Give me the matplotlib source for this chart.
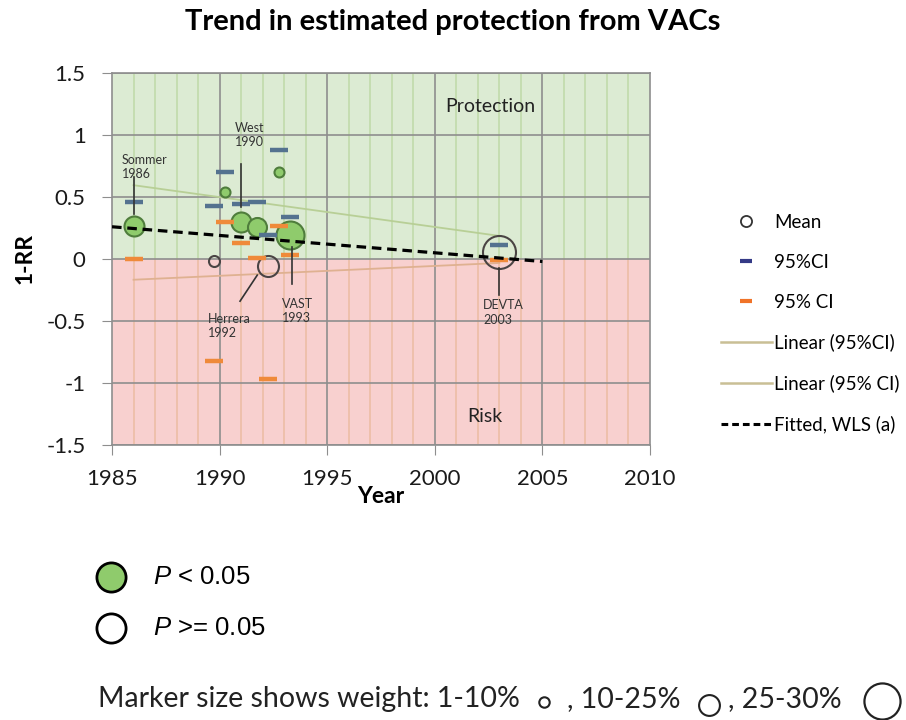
import numpy as np
import matplotlib
matplotlib.use("Agg")
import matplotlib.pyplot as plt
from matplotlib.lines import Line2D

plt.rcParams['font.family'] = ['Lato', 'DejaVu Sans']
plt.rcParams['mathtext.fontset'] = 'custom'
plt.rcParams['mathtext.it'] = 'Liberation Sans:italic'
plt.rcParams['mathtext.rm'] = 'Liberation Sans'

# ---------------- data ----------------
years = [1986.0, 1989.74, 1990.26, 1991.0, 1991.73, 1992.24, 1992.77, 1993.25, 2003.0]
mean_1rr = [0.27, -0.02, 0.54, 0.30, 0.26, -0.06, 0.70, 0.19, 0.06]
ci_upper = [0.46, 0.43, 0.70, 0.44, 0.46, 0.19, 0.88, 0.34, 0.11]
ci_lower = [0.00, -0.82, 0.30, 0.13, 0.01, -0.97, 0.27, 0.03, -0.01]
significant = [True, False, True, True, True, False, True, True, False]
weights = [14, 5, 4, 14, 13, 15, 4, 22, 27]  # percent weight (marker size)
wls_years = [1985, 2005]
wls_fit = [0.26, -0.02]
labelled_studies = ["Sommer\n1986", "West\n1990", "Herrera\n1992", "VAST\n1993", "DEVTA\n2003"]
x_ticks = [1985, 1990, 1995, 2000, 2005, 2010]
y_ticks = [1.5, 1, 0.5, 0, -0.5, -1, -1.5]
y_ticklabels = ["1.5", "1", "0.5", "0", "-0.5", "-1", "-1.5"]

# ---------------- styles ----------------
GREEN_BG = '#dcebd3'
RED_BG = '#f8d0cf'
GRID = '#8e8e8e'
MINOR_G = '#c3dcae'
MINOR_R = '#eebfa9'
FILL_G = '#8fcb6c'
EDGE_G = '#4f7d3c'
EDGE_O = '#4a4444'
BLUE = '#54728f'
ORANGE = '#ef8a3a'
TREND_G = '#b8cf96'
TREND_O = '#dfb191'

fig = plt.figure(figsize=(9.06, 7.2), dpi=100)
W, H = 906, 720
ax = fig.add_axes([112 / W, 1 - 445 / H, (650 - 112) / W, (445 - 73) / H])
ax.set_xlim(1985, 2010)
ax.set_ylim(-1.5, 1.5)

ax.axhspan(0, 1.5, color=GREEN_BG, zorder=0, lw=0)
ax.axhspan(-1.5, 0, color=RED_BG, zorder=0, lw=0)
for yr in range(1986, 2010):
    if yr % 5 == 0:
        ax.axvline(yr, color=GRID, lw=1.2, zorder=0.6)
    else:
        ax.axvline(yr, ymin=0.5, ymax=1, color=MINOR_G, lw=1.3, zorder=0.5)
        ax.axvline(yr, ymin=0, ymax=0.5, color=MINOR_R, lw=1.3, zorder=0.5)
for yv in y_ticks:
    ax.axhline(yv, color=GRID, lw=1.2, zorder=0.6)

# trend lines of CI bounds
yrs = np.array(years)
xs = np.array([yrs.min(), yrs.max()])
pu = np.polyfit(yrs, ci_upper, 1)
pl = np.polyfit(yrs, ci_lower, 1)
ax.plot(xs, np.polyval(pu, xs), color=TREND_G, lw=1.3, zorder=2)
ax.plot(xs, np.polyval(pl, xs), color=TREND_O, lw=1.3, zorder=2)

# mean circles
for x, m, s, w in zip(years, mean_1rr, significant, weights):
    ms = 0.72 * (6 + w)
    if s:
        ax.plot(x, m, 'o', ms=ms, mfc=FILL_G, mec=EDGE_G, mew=1.5, zorder=3)
    else:
        ax.plot(x, m, 'o', ms=ms, mfc='none', mec=EDGE_O, mew=1.5, zorder=3)

# CI dashes
ax.plot(years, ci_upper, linestyle='none', marker='_', ms=13, mew=3.2, color=BLUE, zorder=4)
ax.plot(years, ci_lower, linestyle='none', marker='_', ms=13, mew=3.2, color=ORANGE, zorder=4)

# fitted WLS line
ax.plot(wls_years, wls_fit, color='black', lw=2.3, linestyle=(0, (3, 1.8)), zorder=5)

# annotations (label text + leader line)
txt_pos = [(1985.45, 0.74), (1990.7, 1.0), (1989.45, -0.54), (1992.9, -0.42), (2002.25, -0.43)]
lead_from = [(1986.0, 0.66), (1991.0, 0.77), (1990.95, -0.34), (1993.35, -0.20), (2003.0, -0.29)]
lead_to = [(1986.0, 0.36), (1991.0, 0.42), (1991.75, -0.13), (1993.35, 0.10), (2003.0, -0.07)]
for lab, tp, a, b in zip(labelled_studies, txt_pos, lead_from, lead_to):
    ax.text(tp[0], tp[1], lab, fontsize=9, color='#333333', ha='left', va='center',
            linespacing=1.25, zorder=6)
    ax.plot([a[0], b[0]], [a[1], b[1]], color='#333333', lw=1.2, zorder=6)

ax.text(2002.6, 1.23, "Protection", fontsize=14, ha='center', va='center', color='#222222')
ax.text(2002.35, -1.27, "Risk", fontsize=14, ha='center', va='center', color='#222222')

# axes styling
ax.set_xticks(x_ticks)
ax.set_yticks(y_ticks)
ax.set_yticklabels(y_ticklabels)
ax.tick_params(axis='both', direction='out', length=7, color=GRID, labelsize=16, labelcolor='#1a1a1a')
ax.tick_params(axis='y', pad=12)
ax.tick_params(axis='x', pad=10)
for sp in ax.spines.values():
    sp.set_color(GRID)
    sp.set_linewidth(1.2)
ax.set_xlabel("Year", fontsize=16.5, fontweight='bold', labelpad=-2)
ax.set_ylabel("1-RR", fontsize=16.5, fontweight='bold', labelpad=8)

fig.text(453 / W, 1 - 22 / H, "Trend in estimated protection from VACs", fontsize=21,
         fontweight='bold', ha='center', va='center')

# right legend
handles = [
    Line2D([], [], linestyle='none', marker='o', ms=8, mfc='none', mec='#333333', mew=1.3),
    Line2D([], [], linestyle='none', marker='_', ms=8, mew=3, color='#343a86'),
    Line2D([], [], linestyle='none', marker='_', ms=8, mew=3, color='#f07328'),
    Line2D([], [], color='#c9bf95', lw=1.8),
    Line2D([], [], color='#c9bf95', lw=1.8),
    Line2D([], [], color='black', lw=2.2, linestyle=(0, (2.2, 1.3))),
]
labels = ["Mean", "95%CI", "95% CI", "Linear (95%CI)", "Linear (95% CI)", "Fitted, WLS (a)"]
fig.legend(handles, labels, loc='upper left', bbox_to_anchor=(721 / W, 1 - 214 / H),
           frameon=False, fontsize=13.5, handlelength=2.7, handletextpad=0.15,
           labelspacing=1.22, borderpad=0, borderaxespad=0)

# bottom legend (overlay in pixel coords)
ov = fig.add_axes([0, 0, 1, 1], facecolor='none')
ov.set_xlim(0, W)
ov.set_ylim(H, 0)
ov.axis('off')
ov.plot(111, 577, 'o', ms=21, mfc=FILL_G, mec='black', mew=2.0, clip_on=False)
ov.plot(111, 628, 'o', ms=21, mfc='none', mec='black', mew=2.0, clip_on=False)
ov.text(153, 577, "$P$ < 0.05", fontsize=18.5, family='Liberation Sans', va='center', ha='left')
ov.text(153, 628, "$P$ >= 0.05", fontsize=18.5, family='Liberation Sans', va='center', ha='left')

bt = dict(fontsize=20.5, va='baseline', color='#222222')
ov.text(98, 707, "Marker size shows weight: 1-10%", ha='left', **bt)
ov.plot(544, 702, 'o', ms=7.5, mfc='none', mec='#222222', mew=1.5, clip_on=False)
ov.text(567, 707, ", 10-25%", ha='left', **bt)
ov.plot(709, 705, 'o', ms=15, mfc='none', mec='#222222', mew=1.5, clip_on=False)
ov.text(728, 707, ", 25-30%", ha='left', **bt)
ov.plot(882, 701, 'o', ms=26, mfc='none', mec='#222222', mew=1.6, clip_on=False)

fig.savefig("out.png", dpi=100)
